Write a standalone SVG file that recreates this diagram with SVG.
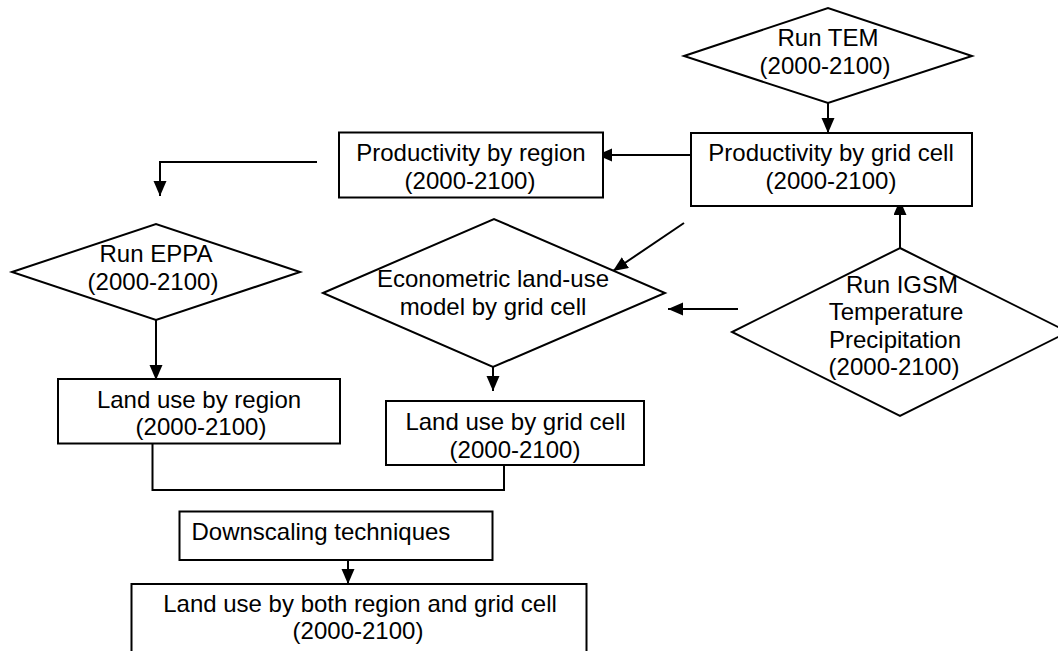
<svg xmlns="http://www.w3.org/2000/svg" width="1058" height="651" viewBox="0 0 1058 651">
<style>
.shape{fill:#fff;stroke:#000;stroke-width:2}
.t{font-family:"Liberation Sans",Arial,sans-serif;font-size:24px;fill:#000;text-anchor:middle}
.tl{font-family:"Liberation Sans",Arial,sans-serif;font-size:24px;fill:#000}
.c{fill:none;stroke:#000;stroke-width:2}
.ca{fill:none;stroke:#000;stroke-width:2;marker-end:url(#ah)}
</style>
<defs>
<marker id="ah" markerUnits="userSpaceOnUse" markerWidth="16" markerHeight="14" refX="15" refY="6.5" orient="auto">
<path d="M0,0 L15,6.5 L0,13 Z" fill="#000"/>
</marker>
</defs>
<rect width="1058" height="651" fill="#fff"/>
<g id="connectors">
<line class="ca" x1="828" y1="103" x2="828" y2="133"/>
<line class="ca" x1="691" y1="155" x2="597" y2="155"/>
<path class="ca" d="M317,162 H160 V196"/>
<line class="ca" x1="156" y1="320" x2="156" y2="380"/>
<line class="ca" x1="684" y1="223" x2="613" y2="271"/>
<line class="ca" x1="738" y1="309" x2="668" y2="309"/>
<line class="ca" x1="900" y1="248" x2="900" y2="200"/>
<line class="ca" x1="493" y1="367" x2="493" y2="391"/>
<path class="c" d="M152.5,444 V490 H504 V465"/>
<line class="ca" x1="348" y1="560" x2="348" y2="584"/>
</g>
<g id="run-tem">
<polygon class="shape" points="684,56 828,8 972,56 828,103"/>
<text class="t" x="828" y="46">Run TEM</text>
<text class="t" x="825" y="74">(2000-2100)</text>
</g>
<g id="prod-grid">
<rect class="shape" x="691" y="133" width="281" height="73"/>
<text class="t" x="831" y="161">Productivity by grid cell</text>
<text class="t" x="831" y="189">(2000-2100)</text>
</g>
<g id="prod-region">
<rect class="shape" x="339" y="132.5" width="264" height="65"/>
<text class="t" x="471" y="161">Productivity by region</text>
<text class="t" x="470" y="188.5">(2000-2100)</text>
</g>
<g id="run-eppa">
<polygon class="shape" points="12,272 156,224 300,272 156,320"/>
<text class="t" x="156" y="262">Run EPPA</text>
<text class="t" x="153" y="290">(2000-2100)</text>
</g>
<g id="econometric">
<polygon class="shape" points="323,293 494,219 665,293 493,367"/>
<text class="t" x="493" y="287">Econometric land-use</text>
<text class="t" x="493" y="315">model by grid cell</text>
</g>
<g id="run-igsm">
<polygon class="shape" points="900,248 1068,332 900,416 732,332"/>
<text class="t" x="902" y="292.5">Run IGSM</text>
<text class="t" x="896" y="320">Temperature</text>
<text class="t" x="895" y="347.5">Precipitation</text>
<text class="t" x="894" y="375">(2000-2100)</text>
</g>
<g id="land-region">
<rect class="shape" x="58" y="379" width="282" height="64.5"/>
<text class="t" x="199" y="408">Land use by region</text>
<text class="t" x="201" y="435">(2000-2100)</text>
</g>
<g id="land-grid">
<rect class="shape" x="386" y="401" width="258" height="64"/>
<text class="t" x="515.5" y="430">Land use by grid cell</text>
<text class="t" x="515" y="457.5">(2000-2100)</text>
</g>
<g id="downscaling">
<rect class="shape" x="179.5" y="511.5" width="313" height="48.5"/>
<text class="tl" x="191.5" y="540">Downscaling techniques</text>
</g>
<g id="land-both">
<rect class="shape" x="131.5" y="584" width="455" height="90"/>
<text class="t" x="360" y="612">Land use by both region and grid cell</text>
<text class="t" x="358" y="639">(2000-2100)</text>
</g>
</svg>
